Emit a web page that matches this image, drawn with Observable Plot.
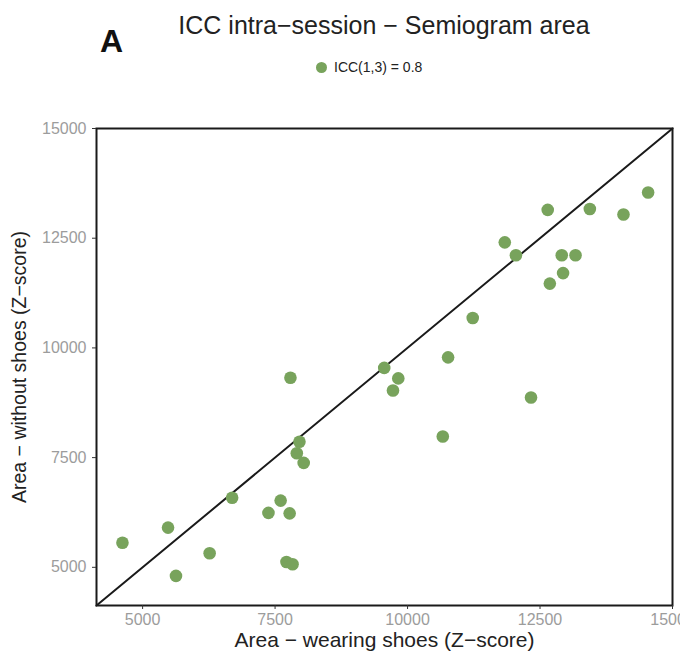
<!DOCTYPE html>
<html>
<head>
<meta charset="utf-8">
<script src="https://cdn.jsdelivr.net/npm/d3@7"></script>
<script src="https://cdn.jsdelivr.net/npm/@observablehq/plot@0.6"></script>
<style>
  body { margin: 0; background: #fff; font-family: "Liberation Sans", Arial, Helvetica, sans-serif; }
  #wrap { position: relative; width: 680px; height: 656px; overflow: hidden; }
  #head { position: relative; width: 680px; height: 90px; }
  #tag { position: absolute; left: 100px; top: 25px; font-weight: bold; font-size: 32px; color: #111; line-height: 1; }
  #title { position: absolute; left: 384px; top: 13px; transform: translateX(-50%); white-space: nowrap; font-size: 25px; color: #222; line-height: 1; }
  #legend { position: absolute; left: 316px; top: 59px; white-space: nowrap; font-size: 14px; color: #222; line-height: 16px; display: flex; align-items: center; }
  #legend .sw { display: inline-block; width: 11px; height: 11px; border-radius: 50%; margin-right: 7px; }
</style>
</head>
<body>
<div id="wrap">
  <div id="head">
    <div id="tag">A</div>
    <div id="title"></div>
    <div id="legend"><span class="sw"></span><span class="lt"></span></div>
  </div>
  <div id="chart"></div>
</div>
<script>
// ---- data ----
const titleText = "ICC intra\u2212session \u2212 Semiogram area";
const seriesName = "ICC(1,3) = 0.8";
const xLabel = "Area \u2212 wearing shoes (Z\u2212score)";
const yLabel = "Area \u2212 without shoes (Z\u2212score)";
const tickValues = [5000, 7500, 10000, 12500, 15000];
const axisRange = [4130, 15000];

const wearingShoes = [
  4620, 5480, 5630, 6265, 6690, 7375, 7605, 7775, 7715, 7830,
  7790, 7960, 7910, 8040, 9560, 9825, 9725, 10765, 11230, 12330,
  10665, 11835, 12045, 12645, 12910, 13170, 12935, 12685, 13440, 14075,
  14540
];
const withoutShoes = [
  5560, 5905, 4805, 5320, 6585, 6240, 6520, 6230, 5120, 5070,
  9320, 7860, 7600, 7380, 9545, 9305, 9030, 9785, 10680, 8870,
  7980, 12405, 12110, 13145, 12110, 12110, 11705, 11465, 13165, 13040,
  13540
];

const pointColor = "#78a35c";

// ---- header ----
document.getElementById("title").textContent = titleText;
document.querySelector("#legend .lt").textContent = seriesName;
document.querySelector("#legend .sw").style.background = pointColor;

const points = wearingShoes.map((x, i) => ({x, y: withoutShoes[i]}));

const chart = Plot.plot({
  width: 680,
  height: 566,
  marginTop: 38,
  marginBottom: 51,
  marginLeft: 96,
  marginRight: 8,
  style: {fontFamily: "'Liberation Sans', Arial, Helvetica, sans-serif", fontSize: "16px", background: "#fff", overflow: "visible"},
  x: {domain: axisRange},
  y: {domain: axisRange},
  marks: [
    Plot.line(axisRange, {x: d => d, y: d => d, stroke: "#1a1a1a", strokeWidth: 2}),
    Plot.dot(points, {x: "x", y: "y", r: 6.3, fill: pointColor, stroke: "none"}),
    Plot.frame({stroke: "#1a1a1a", strokeWidth: 2}),
    Plot.axisX({ticks: tickValues, tickFormat: d => String(d), tickSize: 4, tickPadding: 4, stroke: "#333", fill: "#9c9c9c", fontSize: 16, label: null}),
    Plot.axisY({ticks: tickValues, tickFormat: d => String(d), tickSize: 4, tickPadding: 6, stroke: "#333", fill: "#9c9c9c", fontSize: 16, label: null}),
    Plot.axisX({ticks: [], label: xLabel, labelAnchor: "center", labelArrow: "none", labelOffset: 41, fill: "#222", fontSize: 21}),
    Plot.axisY({ticks: [], label: yLabel, labelAnchor: "center", labelArrow: "none", labelOffset: 84, fill: "#222", fontSize: 19.5})
  ]
});
document.getElementById("chart").appendChild(chart);
</script>
</body>
</html>
